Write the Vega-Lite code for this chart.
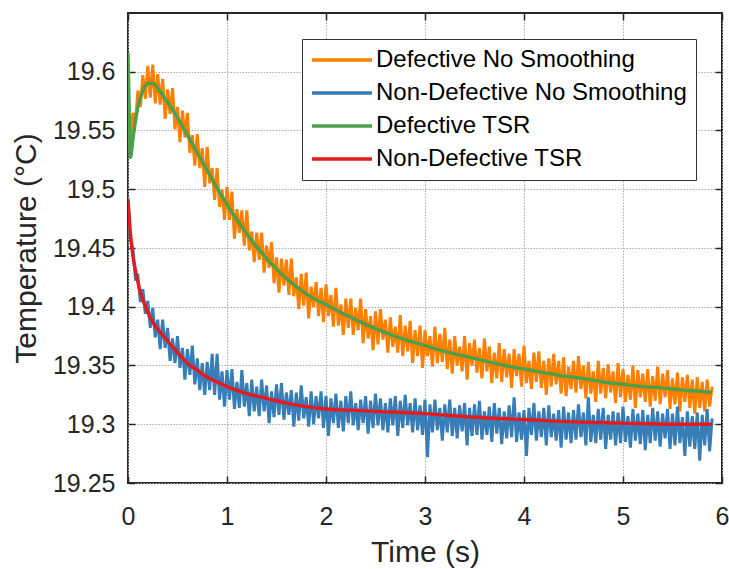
{
"$schema": "https://vega.github.io/schema/vega-lite/v6.json",
"width": 594, "height": 470,
"autosize": {"type": "none"},
"padding": {"left": 128, "top": 13, "right": 7, "bottom": 86},
"background": "white",
"config": {
  "font": "Liberation Sans",
  "view": {"stroke": "#262626", "strokeWidth": 2},
  "axis": {"domain": false, "tickColor": "#262626", "tickWidth": 1.5, "tickSize": -7, "labelFlush": false, "labelOverlap": false,
    "labelFont": "Liberation Sans", "labelFontSize": 25, "labelColor": "#262626",
    "titleFont": "Liberation Sans", "titleFontSize": 30, "titleFontWeight": "normal", "titleColor": "#262626",
    "gridColor": "#aaaaaa", "gridDash": [1.5, 1.5], "gridWidth": 1}
},
"datasets": {
"noisy": [
{"t":0,"a":19.563,"b":19.493},{"t":0.025,"a":19.544,"b":19.457},{"t":0.05,"a":19.565,"b":19.449},{"t":0.075,"a":19.556,"b":19.424},{"t":0.1,"a":19.584,"b":19.426},{"t":0.125,"a":19.570,"b":19.404},{"t":0.15,"a":19.597,"b":19.415},{"t":0.175,"a":19.577,"b":19.394},{"t":0.2,"a":19.605,"b":19.405},{"t":0.225,"a":19.578,"b":19.382},
{"t":0.25,"a":19.606,"b":19.399},{"t":0.275,"a":19.573,"b":19.374},{"t":0.3,"a":19.598,"b":19.389},{"t":0.325,"a":19.572,"b":19.364},{"t":0.35,"a":19.594,"b":19.389},{"t":0.375,"a":19.560,"b":19.365},{"t":0.4,"a":19.585,"b":19.382},{"t":0.425,"a":19.564,"b":19.354},{"t":0.45,"a":19.586,"b":19.373},{"t":0.475,"a":19.551,"b":19.352},
{"t":0.5,"a":19.570,"b":19.375},{"t":0.525,"a":19.540,"b":19.348},{"t":0.55,"a":19.567,"b":19.365},{"t":0.575,"a":19.544,"b":19.338},{"t":0.6,"a":19.565,"b":19.364},{"t":0.625,"a":19.531,"b":19.342},{"t":0.65,"a":19.546,"b":19.367},{"t":0.675,"a":19.520,"b":19.334},{"t":0.7,"a":19.547,"b":19.356},{"t":0.725,"a":19.518,"b":19.329},
{"t":0.75,"a":19.535,"b":19.352},{"t":0.775,"a":19.502,"b":19.325},{"t":0.8,"a":19.536,"b":19.353},{"t":0.825,"a":19.505,"b":19.329},{"t":0.85,"a":19.518,"b":19.360},{"t":0.875,"a":19.491,"b":19.325},{"t":0.9,"a":19.518,"b":19.360},{"t":0.925,"a":19.485,"b":19.321},{"t":0.95,"a":19.500,"b":19.345},{"t":0.975,"a":19.474,"b":19.315},
{"t":1,"a":19.502,"b":19.346},{"t":1.025,"a":19.474,"b":19.321},{"t":1.05,"a":19.498,"b":19.347},{"t":1.075,"a":19.458,"b":19.313},{"t":1.1,"a":19.483,"b":19.336},{"t":1.125,"a":19.463,"b":19.314},{"t":1.15,"a":19.482,"b":19.346},{"t":1.175,"a":19.452,"b":19.315},{"t":1.2,"a":19.482,"b":19.335},{"t":1.225,"a":19.448,"b":19.307},
{"t":1.25,"a":19.464,"b":19.338},{"t":1.275,"a":19.438,"b":19.311},{"t":1.3,"a":19.463,"b":19.332},{"t":1.325,"a":19.440,"b":19.307},{"t":1.35,"a":19.463,"b":19.338},{"t":1.375,"a":19.429,"b":19.311},{"t":1.4,"a":19.452,"b":19.333},{"t":1.425,"a":19.433,"b":19.301},{"t":1.45,"a":19.455,"b":19.328},{"t":1.475,"a":19.420,"b":19.306},
{"t":1.5,"a":19.442,"b":19.334},{"t":1.525,"a":19.412,"b":19.308},{"t":1.55,"a":19.441,"b":19.335},{"t":1.575,"a":19.418,"b":19.304},{"t":1.6,"a":19.440,"b":19.327},{"t":1.625,"a":19.410,"b":19.308},{"t":1.65,"a":19.441,"b":19.329},{"t":1.675,"a":19.409,"b":19.298},{"t":1.7,"a":19.425,"b":19.327},{"t":1.725,"a":19.398,"b":19.303},
{"t":1.75,"a":19.428,"b":19.333},{"t":1.775,"a":19.401,"b":19.305},{"t":1.8,"a":19.429,"b":19.323},{"t":1.825,"a":19.390,"b":19.298},{"t":1.85,"a":19.417,"b":19.328},{"t":1.875,"a":19.400,"b":19.300},{"t":1.9,"a":19.421,"b":19.324},{"t":1.925,"a":19.392,"b":19.305},{"t":1.95,"a":19.416,"b":19.328},{"t":1.975,"a":19.387,"b":19.297},
{"t":2,"a":19.419,"b":19.324},{"t":2.025,"a":19.392,"b":19.290},{"t":2.05,"a":19.410,"b":19.322},{"t":2.075,"a":19.383,"b":19.301},{"t":2.1,"a":19.416,"b":19.326},{"t":2.125,"a":19.384,"b":19.297},{"t":2.15,"a":19.402,"b":19.320},{"t":2.175,"a":19.376,"b":19.294},{"t":2.2,"a":19.407,"b":19.324},{"t":2.225,"a":19.382,"b":19.301},
{"t":2.25,"a":19.407,"b":19.328},{"t":2.275,"a":19.376,"b":19.299},{"t":2.3,"a":19.399,"b":19.318},{"t":2.325,"a":19.380,"b":19.295},{"t":2.35,"a":19.407,"b":19.321},{"t":2.375,"a":19.369,"b":19.301},{"t":2.4,"a":19.398,"b":19.324},{"t":2.425,"a":19.373,"b":19.292},{"t":2.45,"a":19.392,"b":19.320},{"t":2.475,"a":19.363,"b":19.297},
{"t":2.5,"a":19.396,"b":19.326},{"t":2.525,"a":19.368,"b":19.299},{"t":2.55,"a":19.398,"b":19.322},{"t":2.575,"a":19.372,"b":19.295},{"t":2.6,"a":19.389,"b":19.318},{"t":2.625,"a":19.361,"b":19.293},{"t":2.65,"a":19.391,"b":19.322},{"t":2.675,"a":19.366,"b":19.299},{"t":2.7,"a":19.383,"b":19.324},{"t":2.725,"a":19.361,"b":19.290},
{"t":2.75,"a":19.393,"b":19.320},{"t":2.775,"a":19.358,"b":19.297},{"t":2.8,"a":19.384,"b":19.325},{"t":2.825,"a":19.362,"b":19.299},{"t":2.85,"a":19.388,"b":19.318},{"t":2.875,"a":19.352,"b":19.293},{"t":2.9,"a":19.380,"b":19.322},{"t":2.925,"a":19.358,"b":19.295},{"t":2.95,"a":19.384,"b":19.316},{"t":2.975,"a":19.348,"b":19.291},
{"t":3,"a":19.380,"b":19.321},{"t":3.025,"a":19.358,"b":19.272},{"t":3.05,"a":19.375,"b":19.317},{"t":3.075,"a":19.349,"b":19.293},{"t":3.1,"a":19.383,"b":19.321},{"t":3.125,"a":19.352,"b":19.295},{"t":3.15,"a":19.377,"b":19.314},{"t":3.175,"a":19.353,"b":19.286},{"t":3.2,"a":19.382,"b":19.317},{"t":3.225,"a":19.347,"b":19.293},
{"t":3.25,"a":19.372,"b":19.321},{"t":3.275,"a":19.343,"b":19.290},{"t":3.3,"a":19.375,"b":19.314},{"t":3.325,"a":19.350,"b":19.288},{"t":3.35,"a":19.366,"b":19.316},{"t":3.375,"a":19.345,"b":19.294},{"t":3.4,"a":19.375,"b":19.318},{"t":3.425,"a":19.338,"b":19.282},{"t":3.45,"a":19.369,"b":19.314},{"t":3.475,"a":19.350,"b":19.290},
{"t":3.5,"a":19.372,"b":19.317},{"t":3.525,"a":19.344,"b":19.291},{"t":3.55,"a":19.365,"b":19.320},{"t":3.575,"a":19.339,"b":19.287},{"t":3.6,"a":19.373,"b":19.311},{"t":3.625,"a":19.345,"b":19.291},{"t":3.65,"a":19.366,"b":19.315},{"t":3.675,"a":19.335,"b":19.285},{"t":3.7,"a":19.361,"b":19.318},{"t":3.725,"a":19.339,"b":19.292},
{"t":3.75,"a":19.369,"b":19.314},{"t":3.775,"a":19.336,"b":19.283},{"t":3.8,"a":19.364,"b":19.311},{"t":3.825,"a":19.340,"b":19.288},{"t":3.85,"a":19.360,"b":19.316},{"t":3.875,"a":19.331,"b":19.289},{"t":3.9,"a":19.364,"b":19.323},{"t":3.925,"a":19.341,"b":19.285},{"t":3.95,"a":19.360,"b":19.310},{"t":3.975,"a":19.332,"b":19.287},
{"t":4,"a":19.367,"b":19.312},{"t":4.025,"a":19.335,"b":19.273},{"t":4.05,"a":19.354,"b":19.314},{"t":4.075,"a":19.330,"b":19.291},{"t":4.1,"a":19.361,"b":19.318},{"t":4.125,"a":19.336,"b":19.286},{"t":4.15,"a":19.362,"b":19.311},{"t":4.175,"a":19.331,"b":19.289},{"t":4.2,"a":19.354,"b":19.314},{"t":4.225,"a":19.325,"b":19.282},
{"t":4.25,"a":19.356,"b":19.316},{"t":4.275,"a":19.332,"b":19.289},{"t":4.3,"a":19.360,"b":19.309},{"t":4.325,"a":19.334,"b":19.286},{"t":4.35,"a":19.354,"b":19.312},{"t":4.375,"a":19.326,"b":19.280},{"t":4.4,"a":19.357,"b":19.315},{"t":4.425,"a":19.324,"b":19.287},{"t":4.45,"a":19.349,"b":19.310},{"t":4.475,"a":19.330,"b":19.284},
{"t":4.5,"a":19.354,"b":19.312},{"t":4.525,"a":19.327,"b":19.287},{"t":4.55,"a":19.358,"b":19.317},{"t":4.575,"a":19.330,"b":19.289},{"t":4.6,"a":19.350,"b":19.310},{"t":4.625,"a":19.322,"b":19.282},{"t":4.65,"a":19.353,"b":19.323},{"t":4.675,"a":19.326,"b":19.285},{"t":4.7,"a":19.345,"b":19.308},{"t":4.725,"a":19.319,"b":19.284},
{"t":4.75,"a":19.354,"b":19.313},{"t":4.775,"a":19.326,"b":19.287},{"t":4.8,"a":19.348,"b":19.314},{"t":4.825,"a":19.322,"b":19.279},{"t":4.85,"a":19.351,"b":19.308},{"t":4.875,"a":19.327,"b":19.287},{"t":4.9,"a":19.345,"b":19.311},{"t":4.925,"a":19.318,"b":19.282},{"t":4.95,"a":19.352,"b":19.310},{"t":4.975,"a":19.323,"b":19.284},
{"t":5,"a":19.347,"b":19.315},{"t":5.025,"a":19.319,"b":19.285},{"t":5.05,"a":19.342,"b":19.307},{"t":5.075,"a":19.321,"b":19.280},{"t":5.1,"a":19.350,"b":19.313},{"t":5.125,"a":19.314,"b":19.286},{"t":5.15,"a":19.346,"b":19.309},{"t":5.175,"a":19.323,"b":19.283},{"t":5.2,"a":19.343,"b":19.312},{"t":5.225,"a":19.319,"b":19.278},
{"t":5.25,"a":19.347,"b":19.308},{"t":5.275,"a":19.315,"b":19.284},{"t":5.3,"a":19.341,"b":19.314},{"t":5.325,"a":19.320,"b":19.286},{"t":5.35,"a":19.349,"b":19.311},{"t":5.375,"a":19.317,"b":19.281},{"t":5.4,"a":19.343,"b":19.309},{"t":5.425,"a":19.323,"b":19.288},{"t":5.45,"a":19.346,"b":19.313},{"t":5.475,"a":19.313,"b":19.279},
{"t":5.5,"a":19.339,"b":19.309},{"t":5.525,"a":19.317,"b":19.282},{"t":5.55,"a":19.344,"b":19.315},{"t":5.575,"a":19.311,"b":19.284},{"t":5.6,"a":19.340,"b":19.306},{"t":5.625,"a":19.319,"b":19.273},{"t":5.65,"a":19.342,"b":19.311},{"t":5.675,"a":19.314,"b":19.281},{"t":5.7,"a":19.338,"b":19.307},{"t":5.725,"a":19.309,"b":19.279},
{"t":5.75,"a":19.340,"b":19.310},{"t":5.775,"a":19.314,"b":19.269},{"t":5.8,"a":19.336,"b":19.308},{"t":5.825,"a":19.311,"b":19.282},{"t":5.85,"a":19.338,"b":19.313},{"t":5.875,"a":19.315,"b":19.277},{"t":5.9,"a":19.332,"b":19.305}
],
"green": [
{"t":0,"v":19.616},{"t":0.01,"v":19.575},{"t":0.025,"v":19.527},{"t":0.05,"v":19.543},{"t":0.075,"v":19.558},{"t":0.1,"v":19.570},{"t":0.15,"v":19.584},{"t":0.2,"v":19.590},{"t":0.25,"v":19.590},{"t":0.3,"v":19.586},{"t":0.35,"v":19.580},{"t":0.4,"v":19.574},{"t":0.5,"v":19.561},{"t":0.6,"v":19.546},{"t":0.7,"v":19.531},{"t":0.8,"v":19.516},{"t":0.9,"v":19.501},{"t":1.0,"v":19.487},{"t":1.1,"v":19.474},{"t":1.2,"v":19.462},{"t":1.3,"v":19.451},{"t":1.4,"v":19.441},{"t":1.5,"v":19.432},{"t":1.6,"v":19.424},{"t":1.7,"v":19.417},{"t":1.8,"v":19.411},{"t":1.9,"v":19.406},{"t":2.0,"v":19.402},{"t":2.2,"v":19.393},{"t":2.4,"v":19.385},{"t":2.6,"v":19.378},{"t":2.8,"v":19.372},{"t":3.0,"v":19.367},{"t":3.2,"v":19.362},{"t":3.4,"v":19.358},{"t":3.6,"v":19.354},{"t":3.8,"v":19.350},{"t":4.0,"v":19.347},{"t":4.2,"v":19.344},{"t":4.4,"v":19.341},{"t":4.6,"v":19.339},{"t":4.8,"v":19.336},{"t":5.0,"v":19.334},{"t":5.2,"v":19.332},{"t":5.4,"v":19.331},{"t":5.6,"v":19.329},{"t":5.8,"v":19.328},{"t":5.9,"v":19.327}
],
"red": [
{"t":0,"v":19.491},{"t":0.025,"v":19.462},{"t":0.05,"v":19.443},{"t":0.075,"v":19.431},{"t":0.1,"v":19.421},{"t":0.125,"v":19.412},{"t":0.15,"v":19.406},{"t":0.2,"v":19.395},{"t":0.25,"v":19.387},{"t":0.3,"v":19.381},{"t":0.4,"v":19.371},{"t":0.5,"v":19.361},{"t":0.6,"v":19.352},{"t":0.7,"v":19.346},{"t":0.8,"v":19.340},{"t":0.9,"v":19.336},{"t":1.0,"v":19.332},{"t":1.2,"v":19.326},{"t":1.4,"v":19.322},{"t":1.6,"v":19.318},{"t":1.8,"v":19.315},{"t":2.0,"v":19.313},{"t":2.25,"v":19.312},{"t":2.5,"v":19.311},{"t":3.0,"v":19.309},{"t":3.5,"v":19.306},{"t":4.0,"v":19.304},{"t":4.5,"v":19.302},{"t":5.0,"v":19.301},{"t":5.5,"v":19.300},{"t":5.9,"v":19.300}
]
},
"layer": [
{
 "data": {"name": "noisy"},
 "mark": {"type": "line", "strokeWidth": 3, "clip": true},
 "encoding": {
  "x": {"field": "t", "type": "quantitative", "scale": {"domain": [0, 6], "nice": false},
        "axis": {"orient": "bottom", "values": [0,1,2,3,4,5,6], "format": "d", "title": "Time (s)", "labelPadding": 28, "titlePadding": 8}},
  "y": {"field": "a", "type": "quantitative", "scale": {"domain": [19.25, 19.65], "nice": false, "zero": false},
        "axis": {"orient": "left", "values": [19.25,19.3,19.35,19.4,19.45,19.5,19.55,19.6], "format": "~f", "title": "Temperature (°C)", "labelPadding": 20, "titlePadding": 11}},
  "color": {"datum": "Defective No Smoothing", "type": "nominal",
    "scale": {"domain": ["Defective No Smoothing", "Non-Defective No Smoothing", "Defective TSR", "Non-Defective TSR"], "range": ["#FF7F00", "#377EB8", "#4DA04A", "#E41A1C"]},
    "legend": {"orient": "none", "legendX": 174, "legendY": 26, "title": null, "strokeColor": "#333333", "fillColor": "white", "padding": 9,
      "labelFont": "Liberation Sans", "labelFontSize": 24, "labelColor": "#000000", "labelOffset": 22, "labelLimit": 400,
      "symbolType": "M-3,0H3", "symbolSize": 400, "symbolOffset": 19, "symbolStrokeWidth": 3.5, "rowPadding": 9}}
 }
},
{
 "data": {"name": "noisy"},
 "mark": {"type": "line", "strokeWidth": 3, "clip": true},
 "encoding": {
  "x": {"field": "t", "type": "quantitative", "scale": {"domain": [0, 6], "nice": false}, "axis": null},
  "y": {"field": "b", "type": "quantitative", "scale": {"domain": [19.25, 19.65], "nice": false, "zero": false}, "axis": null},
  "color": {"datum": "Non-Defective No Smoothing", "type": "nominal"}
 }
},
{
 "data": {"name": "green"},
 "mark": {"type": "line", "strokeWidth": 3.4, "clip": true, "interpolate": "monotone"},
 "encoding": {
  "x": {"field": "t", "type": "quantitative", "scale": {"domain": [0, 6], "nice": false},
        "axis": {"orient": "top", "values": [0,1,2,3,4,5,6], "labels": false, "grid": false, "title": null}},
  "y": {"field": "v", "type": "quantitative", "scale": {"domain": [19.25, 19.65], "nice": false, "zero": false},
        "axis": {"orient": "right", "values": [19.25,19.3,19.35,19.4,19.45,19.5,19.55,19.6], "labels": false, "grid": false, "title": null}},
  "color": {"datum": "Defective TSR", "type": "nominal"}
 }
},
{
 "data": {"name": "red"},
 "mark": {"type": "line", "strokeWidth": 3.4, "clip": true, "interpolate": "monotone"},
 "encoding": {
  "x": {"field": "t", "type": "quantitative", "scale": {"domain": [0, 6], "nice": false}, "axis": null},
  "y": {"field": "v", "type": "quantitative", "scale": {"domain": [19.25, 19.65], "nice": false, "zero": false}, "axis": null},
  "color": {"datum": "Non-Defective TSR", "type": "nominal"}
 }
}
],
"resolve": {"axis": {"x": "independent", "y": "independent"}}
}
